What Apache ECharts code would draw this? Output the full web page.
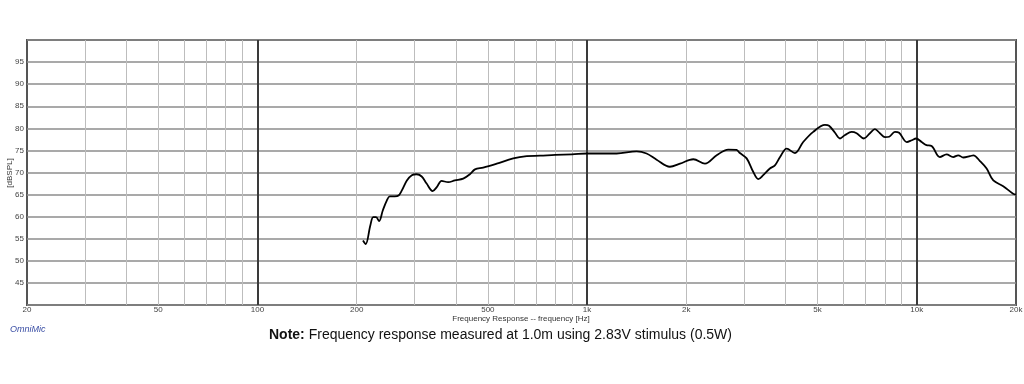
<!DOCTYPE html>
<html>
<head>
<meta charset="utf-8">
<script src="https://cdn.jsdelivr.net/npm/echarts@6/dist/echarts.min.js"></script>
<style>html,body{margin:0;padding:0;background:#fff;}#c{width:1024px;height:384px;}</style>
</head>
<body>
<div id="c"></div>
<script>
// Frequency (Hz) and SPL (dB) of the measured response
var freqs = [209,213,220,224.5,229,234,240,247,252,261,268,274,284,294,304,315,326,340,350,362,379,397,421,441,457,484,532,597,656,720,
  800,900,1000,1229,1413,1515,1625,1783,1914,2100,2278,2472,2680,2840,2907,3048,3193,3306,3422,3585,3713,3849,4031,4270,4524,4853,
  5267,5420,5650,5850,6060,6345,6570,6914,7210,7465,7730,8010,8250,8585,8840,9330,9660,9950,10346,10700,11090,11750,12310,12900,
  13360,13840,14500,14850,15550,16290,17070,18290,19600,20000];
var spl = [54.6,53.8,58.0,59.9,59.9,59.0,61.4,63.7,64.6,64.6,64.8,65.9,68.2,69.4,69.6,69.1,67.5,65.8,66.7,68.1,67.8,68.2,68.6,69.6,70.7,71.1,72.0,73.2,73.7,73.8,
  74.0,74.1,74.3,74.3,74.8,74.3,72.9,71.3,72.0,73.0,72.0,73.9,75.2,75.1,74.4,73.2,70.1,68.5,69.4,70.9,71.6,73.5,75.4,74.4,76.9,79.2,
  80.8,80.6,79.0,77.7,78.5,79.2,78.9,77.7,78.9,79.8,78.9,78.0,78.1,79.2,79.0,76.9,77.3,77.7,76.9,76.2,76.0,73.5,74.1,73.5,
  73.9,73.4,73.7,73.9,72.6,70.9,68.2,66.9,65.2,65.0];
var xTickLabels = [20,50,100,200,500,1000,2000,5000,10000,20000];
var minorGrid = [30,40,50,60,70,80,90,200,300,400,500,600,700,800,900,2000,3000,4000,5000,6000,7000,8000,9000];
var majorGrid = [100,1000,10000];
var yTickLabels = [45,50,55,60,65,70,75,80,85,90,95];

var chart = echarts.init(document.getElementById('c'), null, {renderer:'canvas'});
function fmtF(v){ v = Math.round(v); return v >= 1000 ? (v/1000) + 'k' : String(v); }
var gridLines = minorGrid.map(function(f){ return {xAxis:f, lineStyle:{color:'#bdbdbd', width:1, type:'solid'}}; })
  .concat(majorGrid.map(function(f){ return {xAxis:f, lineStyle:{color:'#3a3a3a', width:2, type:'solid'}}; }));
chart.setOption({
  animation:false,
  backgroundColor:'#fff',
  grid:{left:27, right:8, top:40, bottom:79, show:true, borderColor:'#555', borderWidth:2, containLabel:false, outerBoundsMode:'none'},
  xAxis:{
    type:'log', logBase:10, min:20, max:20000,
    axisLine:{show:false}, axisTick:{show:false}, splitLine:{show:false}, minorSplitLine:{show:false},
    axisLabel:{customValues:xTickLabels, formatter:function(v){return fmtF(v);}, fontSize:8, color:'#444', fontFamily:'Liberation Sans, Arial', margin:1}
  },
  yAxis:{
    type:'value', min:40, max:100, interval:5,
    axisLine:{show:false}, axisTick:{show:false},
    splitLine:{show:true, lineStyle:{color:'#8c8c8c', width:1.5}},
    axisLabel:{fontSize:8, color:'#444', fontFamily:'Liberation Sans, Arial', margin:3,
      formatter:function(v){ return yTickLabels.indexOf(v) >= 0 ? String(v) : ''; }}
  },
  series:[
    {type:'line', data:[], silent:true, markLine:{symbol:'none', silent:true, label:{show:false}, animation:false, data:gridLines}},
    {type:'line', data:freqs.map(function(f,i){return [f, spl[i]];}), showSymbol:false, smooth:0.35,
     lineStyle:{color:'#000', width:1.8}, itemStyle:{color:'#000'}, z:5}
  ],
  graphic:[
    {type:'text', x:10, y:173, rotation:Math.PI/2, style:{text:'[dBSPL]', fill:'#333', font:'8px "Liberation Sans", Arial', align:'center', verticalAlign:'middle'}},
    {type:'text', x:521, y:319, style:{text:'Frequency Response -- frequency [Hz]', fill:'#333', font:'8px "Liberation Sans", Arial', align:'center', verticalAlign:'middle'}},
    {type:'text', left:10, top:325, style:{text:'OmniMic', fill:'#3b4fa5', font:'italic 9px "Liberation Sans", Arial'}},
    {type:'text', left:269, top:328, style:{text:'{b|Note:} Frequency response measured at 1.0m using 2.83V stimulus (0.5W)',
      rich:{b:{fontWeight:'bold', fontSize:14, fill:'#111', fontFamily:'Liberation Sans, Arial'}},
      fill:'#111', fontSize:14, fontFamily:'Liberation Sans, Arial'}}
  ]
});
</script>
</body>
</html>
